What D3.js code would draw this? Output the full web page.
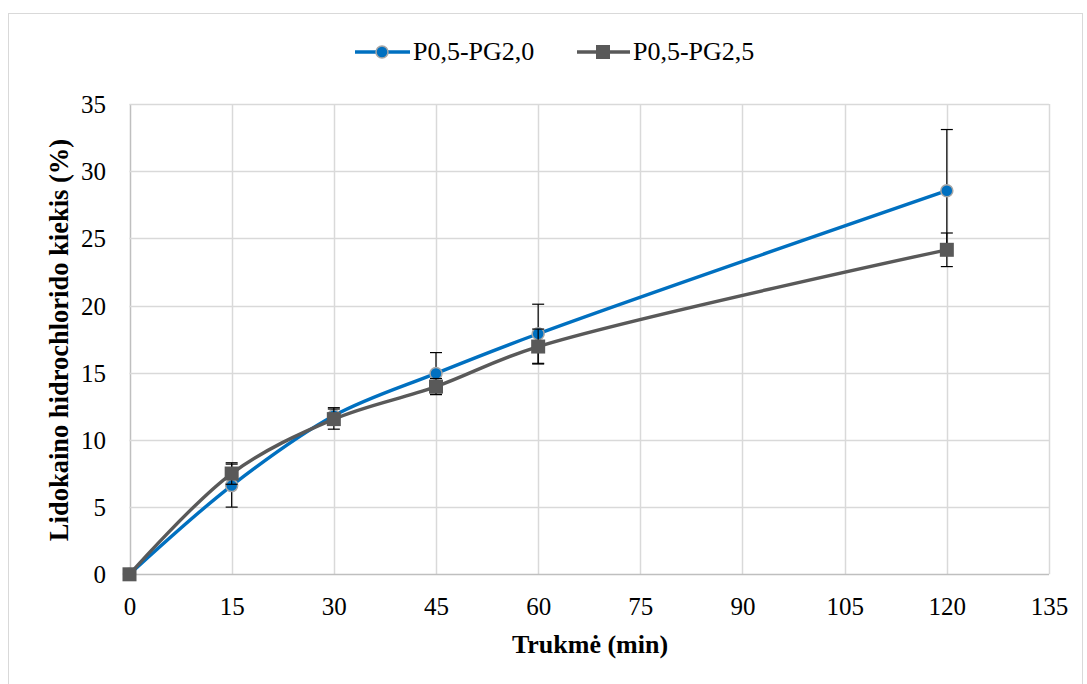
<!DOCTYPE html>
<html><head><meta charset="utf-8">
<script src="https://cdn.jsdelivr.net/npm/d3@7"></script>
<style>body{margin:0;background:#fff;} svg{display:block;}</style>
</head><body>
<svg id="c" width="1087" height="684"></svg>
<script>
const times = [0, 15, 30, 45, 60, 120];
const seriesNames = ["P0,5-PG2,0", "P0,5-PG2,5"];
const valuesA = [0, 6.6, 11.8, 14.95, 17.9, 28.55];
const errorsA = [0, 1.6, 0.6, 1.55, 2.2, 4.55];
const valuesB = [0, 7.5, 11.55, 13.97, 16.95, 24.15];
const errorsB = [0, 0.8, 0.75, 0.6, 1.3, 1.25];
const xTicks = [0, 15, 30, 45, 60, 75, 90, 105, 120, 135];
const yTicks = [0, 5, 10, 15, 20, 25, 30, 35];

const svg = d3.select("#c");
const font = "Liberation Serif";
const x = d3.scaleLinear().domain([0, 135]).range([129.5, 1049]);
const y = d3.scaleLinear().domain([0, 35]).range([574.3, 104]);

// outer frame
svg.append("rect").attr("x", 8.5).attr("y", 13.5).attr("width", 1074).attr("height", 690)
  .attr("fill", "#fff").attr("stroke", "#d9d9d9").attr("stroke-width", 1);

// grid
const g = svg.append("g");
g.selectAll("line.v").data(xTicks).join("line")
  .attr("x1", d => Math.round(x(d)) + 0.5).attr("x2", d => Math.round(x(d)) + 0.5)
  .attr("y1", y(35)).attr("y2", y(0))
  .attr("stroke", d => d === 0 ? "#bfbfbf" : "#d9d9d9").attr("stroke-width", 1.5);
g.selectAll("line.h").data(yTicks).join("line")
  .attr("x1", x(0)).attr("x2", x(135))
  .attr("y1", d => Math.round(y(d)) + 0.5).attr("y2", d => Math.round(y(d)) + 0.5)
  .attr("stroke", d => d === 0 ? "#bfbfbf" : "#d9d9d9").attr("stroke-width", 1.5);

// axes labels via d3 axes
const xAxis = d3.axisBottom(x).tickValues(xTicks).tickSize(0).tickPadding(0);
const xg = svg.append("g").attr("transform", `translate(0,${y(0)})`).call(xAxis)
  .attr("font-family", font).attr("font-size", 25);
xg.select(".domain").remove();
xg.selectAll("text").attr("fill", "#000").attr("dy", null).attr("y", 41);
const yAxis = d3.axisLeft(y).tickValues(yTicks).tickSize(0).tickPadding(0);
const yg = svg.append("g").attr("transform", `translate(106,0)`).call(yAxis)
  .attr("font-family", font).attr("font-size", 25);
yg.select(".domain").remove();
yg.selectAll("text").attr("fill", "#000").attr("dy", "0.34em").attr("x", 0);

// axis titles
svg.append("text").attr("x", 590).attr("y", 653).attr("text-anchor", "middle")
  .attr("font-family", font).attr("font-size", 26).attr("font-weight", "bold").text("Trukmė (min)");
svg.append("text").attr("transform", "translate(68,340) rotate(-90)").attr("text-anchor", "middle")
  .attr("font-family", font).attr("font-size", 26.5).attr("font-weight", "bold")
  .text("Lidokaino hidrochlorido kiekis (%)");

const line = d3.line().x(d => x(d.t)).y(d => y(d.v)).curve(d3.curveCatmullRom.alpha(0.5));
const series = [
  {name: seriesNames[0], vals: valuesA, errs: errorsA, color: "#0070C0", marker: "circle"},
  {name: seriesNames[1], vals: valuesB, errs: errorsB, color: "#595959", marker: "square"}
];

series.forEach(s => {
  const pts = times.map((t, i) => ({t, v: s.vals[i], e: s.errs[i]}));
  const sg = svg.append("g");
  sg.append("path").datum(pts).attr("d", line).attr("fill", "none")
    .attr("stroke", s.color).attr("stroke-width", 3.4).attr("stroke-linejoin", "round");
  const eb = pts.filter(p => p.e > 0);
  sg.selectAll("line.eb").data(eb).join("line")
    .attr("x1", d => x(d.t)).attr("x2", d => x(d.t))
    .attr("y1", d => y(d.v - d.e)).attr("y2", d => y(d.v + d.e))
    .attr("stroke", "#000").attr("stroke-width", 1.2);
  [-1, 1].forEach(sgn => {
    sg.selectAll(null).data(eb).join("line")
      .attr("x1", d => x(d.t) - 6).attr("x2", d => x(d.t) + 6)
      .attr("y1", d => y(d.v + sgn * d.e)).attr("y2", d => y(d.v + sgn * d.e))
      .attr("stroke", "#000").attr("stroke-width", 1.2);
  });
  if (s.marker === "circle") {
    sg.selectAll("circle").data(pts).join("circle")
      .attr("cx", d => x(d.t)).attr("cy", d => y(d.v)).attr("r", 6)
      .attr("fill", s.color).attr("stroke", "#a6a6a6").attr("stroke-width", 1.5);
  } else {
    sg.selectAll("rect").data(pts).join("rect")
      .attr("x", d => x(d.t) - 7).attr("y", d => y(d.v) - 7).attr("width", 14).attr("height", 14)
      .attr("fill", s.color);
  }
});

// legend
const leg = [
  {x1: 355, x2: 410, mx: 382, tx: 413, s: series[0]},
  {x1: 577, x2: 630, mx: 603, tx: 633, s: series[1]}
];
const ly = 52;
leg.forEach(l => {
  svg.append("line").attr("x1", l.x1).attr("x2", l.x2).attr("y1", ly).attr("y2", ly)
    .attr("stroke", l.s.color).attr("stroke-width", 3.4);
  if (l.s.marker === "circle") {
    svg.append("circle").attr("cx", l.mx).attr("cy", ly).attr("r", 6)
      .attr("fill", l.s.color).attr("stroke", "#a6a6a6").attr("stroke-width", 1.5);
  } else {
    svg.append("rect").attr("x", l.mx - 7).attr("y", ly - 7).attr("width", 14).attr("height", 14)
      .attr("fill", l.s.color);
  }
  svg.append("text").attr("x", l.tx).attr("y", 60)
    .attr("font-family", font).attr("font-size", 26).attr("fill", "#000").text(l.s.name);
});
</script>
</body></html>
